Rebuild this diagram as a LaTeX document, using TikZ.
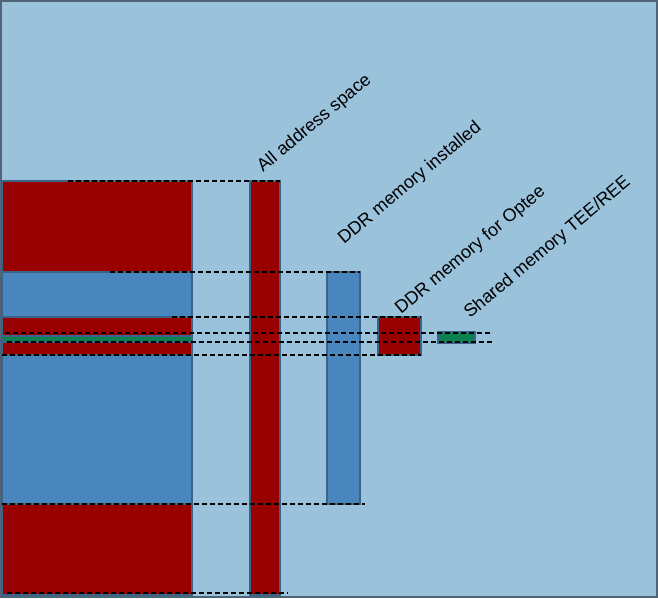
\documentclass[tikz,border=0pt]{standalone}
\usepackage{fontspec}
\setmainfont{Liberation Sans}
\usepackage{xcolor}
\usepackage{tikz}
\usetikzlibrary{arrows.meta,positioning,calc}
\definecolor{bgblue}{RGB}{154,194,219}
\definecolor{frameslate}{RGB}{79,100,119}
\definecolor{memred}{RGB}{153,0,0}
\definecolor{memblue}{RGB}{74,134,190}
\definecolor{memgreen}{RGB}{12,128,80}
\definecolor{edgeblue}{RGB}{58,99,140}

\begin{document}
\begin{tikzpicture}[
  x=1pt, y=-1pt,
  bar/.style={draw=edgeblue, line width=2.5pt, inner sep=0pt, outer sep=0pt},
  guide/.style={draw=black, line width=1.2pt, dash pattern=on 5pt off 3pt},
  label/.style={anchor=base west, inner sep=0pt, rotate=40,
                font=\fontsize{18}{18}\selectfont}
]
  \draw[frameslate, line width=2pt, fill=bgblue] (1,1) rectangle (657,597);
  \useasboundingbox (0,0) rectangle (658,598);

  \node[bar, fill=memblue, minimum width=190pt, minimum height=414pt] (column) at (97,388) {};
  \node[bar, fill=memred, minimum width=190pt, minimum height=91pt] (secure) at (97,226.5) {};
  \node[bar, fill=memred, minimum width=190pt, minimum height=38pt] (tee) at (97,336) {};
  \node[bar, fill=memgreen, line width=1.5pt, minimum width=190pt, minimum height=6pt] (shm) at (97,339) {};
  \node[bar, fill=memred, minimum width=190pt, minimum height=91pt] (high) at (97,549.5) {};

  \node[bar, fill=memred, minimum width=30pt, minimum height=414pt] (all) at (265,388) {};
  \node[bar, fill=memblue, minimum width=33pt, minimum height=232pt] (ddr) at (343.5,388) {};
  \node[bar, fill=memred, minimum width=43pt, minimum height=38pt] (optee) at (399.5,336) {};
  \node[bar, fill=memgreen, minimum width=37pt, minimum height=11pt] (shared) at (456.5,337.5) {};

  \node[label] (lall) at (263,173) {All address space};
  \node[label] (lddr) at (344,245) {DDR memory installed};
  \node[label] (loptee) at (401,315) {DDR memory for Optee};
  \node[label] (lshared) at (470,319) {Shared memory TEE/REE};

  \coordinate (g1) at (68,181);
  \coordinate (g2) at (110,272);
  \coordinate (g3) at (172,317);
  \coordinate (g4a) at (5,333);
  \coordinate (g4b) at (492,333);
  \coordinate (g5a) at (7,342);
  \coordinate (g5b) at (493,342);
  \coordinate (g6) at (2,355);
  \coordinate (g7a) at (2,504);
  \coordinate (g7b) at (365,504);
  \coordinate (g8a) at (7,593);
  \coordinate (g8b) at (288,593);

  \draw[guide] (g1) -- (all.north east);
  \draw[guide] (g2) -- (ddr.north east);
  \draw[guide] (g3) -- (optee.north east);
  \draw[guide] (g4a) -- (g4b);
  \draw[guide] (g5a) -- (g5b);
  \draw[guide] (g6) -- (optee.south east);
  \draw[guide] (g7a) -- (g7b);
  \draw[guide] (g8a) -- (g8b);
\end{tikzpicture}
\end{document}
